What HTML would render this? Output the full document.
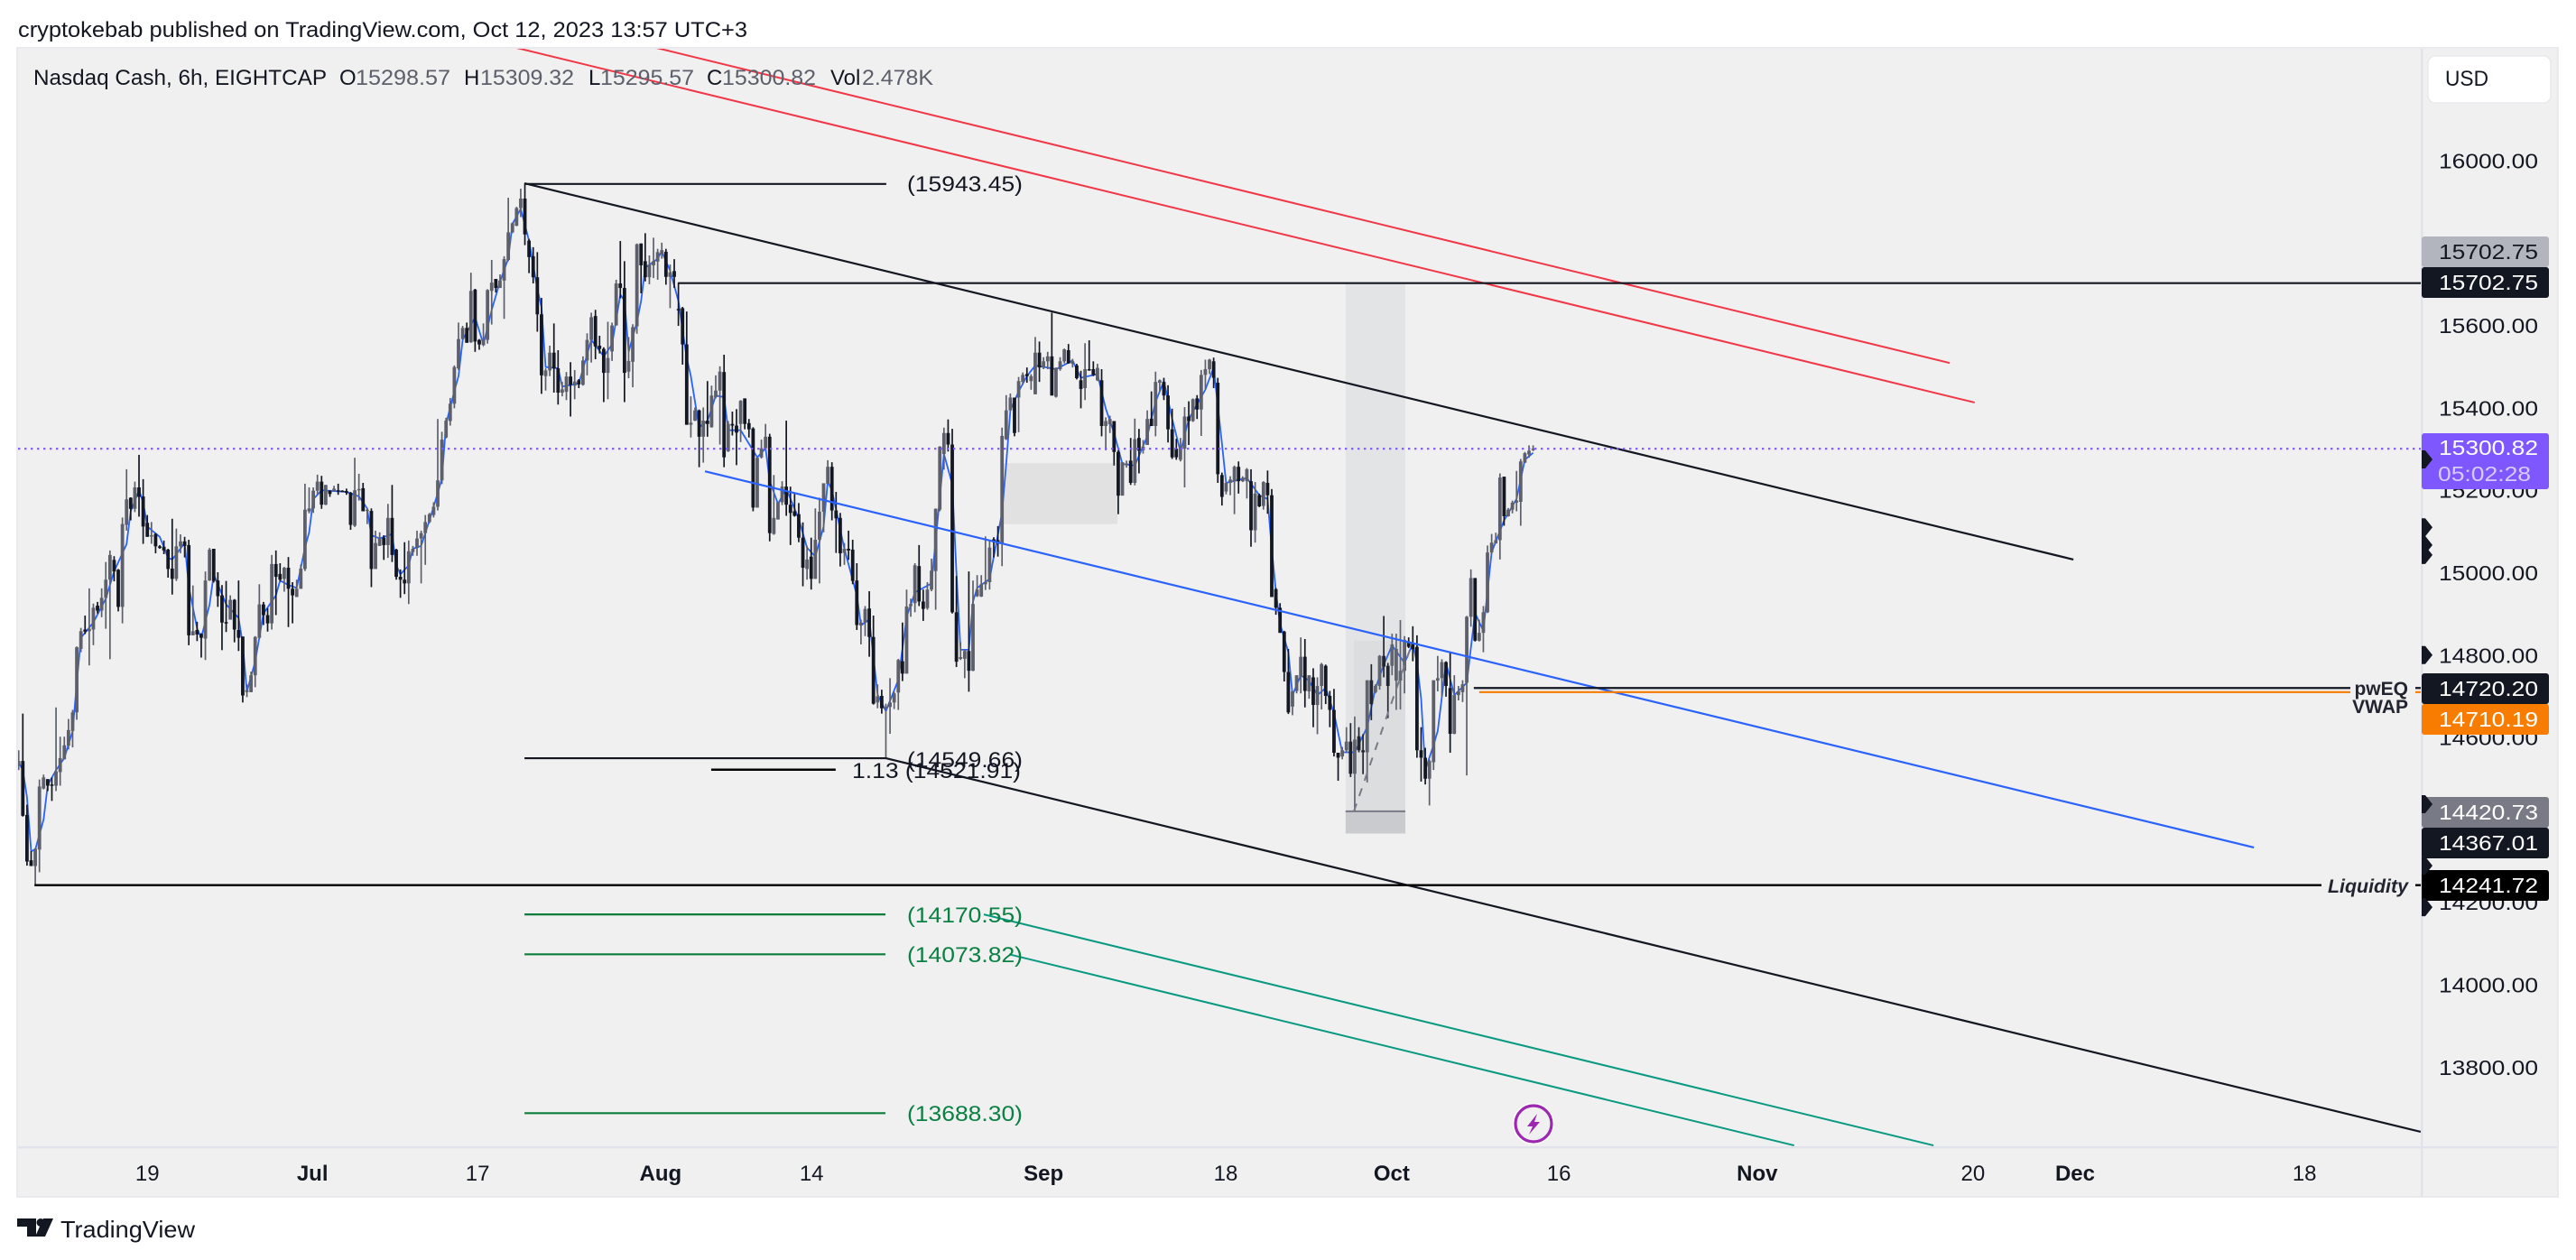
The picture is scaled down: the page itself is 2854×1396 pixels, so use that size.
<!DOCTYPE html>
<html lang="en">
<head>
<meta charset="utf-8">
<title>Nasdaq Cash 6h chart</title>
<style>
html,body{margin:0;padding:0;background:#fff;width:2854px;height:1396px;overflow:hidden}
svg{display:block;font-family:"Liberation Sans",sans-serif}
.ln{fill:none}
.k-black{stroke:#131722;stroke-width:2.2}
.k-jet{stroke:#000;stroke-width:2.4}
.k-red{stroke:#f23645;stroke-width:2}
.k-blue{stroke:#2962ff;stroke-width:2.2}
.k-teal{stroke:#089981;stroke-width:2}
.k-green{stroke:#0a7d3a;stroke-width:2.2}
.k-orange{stroke:#f57c00;stroke-width:2.2}
.tag{font-size:23px;fill:#fff}
.tick{font-size:23px;fill:#131722}
.tt{font-size:24px;fill:#131722;text-anchor:middle}
.lg{font-size:24px;fill:#131722}
.lv{font-size:24px;fill:#5d606b}
.fib{font-size:24px;fill:#131722}
.fibg{font-size:24px;fill:#0a8043}
.ax{font-size:21px;font-weight:bold;fill:#22252f;text-anchor:end}
</style>
</head>
<body>
<svg id="chart" width="2854" height="1396" viewBox="0 0 2854 1396" xmlns="http://www.w3.org/2000/svg">
  <defs><clipPath id="plotClip"><rect x="20" y="54" width="2662" height="1216"/></clipPath></defs>
  <rect x="19" y="53" width="2815" height="1273" fill="#f0f0f0" stroke="#e9e9ee" stroke-width="2"/>
  <text x="20" y="41" font-size="24" fill="#131722" textLength="808" lengthAdjust="spacingAndGlyphs">cryptokebab published on TradingView.com, Oct 12, 2023 13:57 UTC+3</text>

  <g id="ticksPrice"></g>
  <g id="ticksTime"></g>
  <g clip-path="url(#plotClip)">
    <g id="under"></g>
    <g id="candles"></g>
    <g id="over"></g>
  </g>

  <rect x="2682" y="54" width="2.4" height="1272" fill="#e0e3eb"/>
  <rect x="20" y="1270" width="2813" height="2.4" fill="#e0e3eb"/>

  <!-- legend -->
  <text class="lg" x="37" y="94" textLength="325" lengthAdjust="spacingAndGlyphs">Nasdaq Cash, 6h, EIGHTCAP</text>
  <text class="lg" x="376" y="94">O</text>
  <text class="lv" x="394" y="94" textLength="105" lengthAdjust="spacingAndGlyphs">15298.57</text>
  <text class="lg" x="514" y="94">H</text>
  <text class="lv" x="532" y="94" textLength="104" lengthAdjust="spacingAndGlyphs">15309.32</text>
  <text class="lg" x="652" y="94">L</text>
  <text class="lv" x="665" y="94" textLength="104" lengthAdjust="spacingAndGlyphs">15295.57</text>
  <text class="lg" x="783" y="94">C</text>
  <text class="lv" x="800" y="94" textLength="104" lengthAdjust="spacingAndGlyphs">15300.82</text>
  <text class="lg" x="920" y="94">Vol</text>
  <text class="lv" x="955" y="94" textLength="79" lengthAdjust="spacingAndGlyphs">2.478K</text>

  <!-- fib labels -->
  <text class="fib" x="1005" y="212" textLength="128" lengthAdjust="spacingAndGlyphs">(15943.45)</text>
  <text class="fib" x="1005" y="850" textLength="128" lengthAdjust="spacingAndGlyphs">(14549.66)</text>
  <text class="fib" x="944" y="862" textLength="187" lengthAdjust="spacingAndGlyphs">1.13 (14521.91)</text>
  <text class="fibg" x="1005" y="1022" textLength="128" lengthAdjust="spacingAndGlyphs">(14170.55)</text>
  <text class="fibg" x="1005" y="1066" textLength="128" lengthAdjust="spacingAndGlyphs">(14073.82)</text>
  <text class="fibg" x="1005" y="1242" textLength="128" lengthAdjust="spacingAndGlyphs">(13688.30)</text>

  <!-- line labels near the axis -->
  <rect x="2604" y="755" width="72" height="36" fill="#f0f0f0"/>
  <rect x="2572" y="972" width="104" height="18" fill="#f0f0f0"/>
  <text class="ax" x="2668" y="770">pwEQ</text>
  <text class="ax" x="2668" y="790">VWAP</text>
  <text class="ax" x="2668" y="989" font-style="italic" textLength="89" lengthAdjust="spacingAndGlyphs">Liquidity</text>

  <!-- price tags -->
  <g>
    <rect x="2683" y="262" width="141" height="34" rx="3" fill="#b2b5be"/>
    <text class="tag" style="fill:#131722" x="2702" y="287" textLength="110" lengthAdjust="spacingAndGlyphs">15702.75</text>
    <rect x="2683" y="296" width="141" height="34" rx="3" fill="#131722"/>
    <text class="tag" x="2702" y="321" textLength="110" lengthAdjust="spacingAndGlyphs">15702.75</text>
    <rect x="2683" y="480" width="141" height="62" rx="3" fill="#7e57ff"/>
    <text class="tag" x="2702" y="504" textLength="110" lengthAdjust="spacingAndGlyphs">15300.82</text>
    <text class="tag" style="fill:#d8ccff" x="2701" y="533" textLength="103" lengthAdjust="spacingAndGlyphs">05:02:28</text>
    <rect x="2683" y="746" width="141" height="34" rx="3" fill="#131722"/>
    <text class="tag" x="2702" y="771" textLength="110" lengthAdjust="spacingAndGlyphs">14720.20</text>
    <rect x="2683" y="780" width="141" height="34" rx="3" fill="#f77c00"/>
    <text class="tag" x="2702" y="805" textLength="110" lengthAdjust="spacingAndGlyphs">14710.19</text>
    <rect x="2683" y="883" width="141" height="34" rx="3" fill="#787b86"/>
    <text class="tag" x="2702" y="908" textLength="110" lengthAdjust="spacingAndGlyphs">14420.73</text>
    <rect x="2683" y="917" width="141" height="34" rx="3" fill="#131722"/>
    <text class="tag" x="2702" y="942" textLength="110" lengthAdjust="spacingAndGlyphs">14367.01</text>
    <rect x="2683" y="964" width="141" height="34" rx="3" fill="#000"/>
    <text class="tag" x="2702" y="989" textLength="110" lengthAdjust="spacingAndGlyphs">14241.72</text>
  </g>
  <g id="arrows"></g>

  <!-- currency -->
  <rect x="2690" y="62" width="136" height="52" rx="8" fill="#fff" stroke="#e9e9ee" stroke-width="1.5"/>
  <text x="2709" y="95" font-size="24" fill="#131722" textLength="48" lengthAdjust="spacingAndGlyphs">USD</text>

  <!-- lightning -->
  <g>
    <circle cx="1699" cy="1245" r="23" fill="#fff"/>
    <circle cx="1699" cy="1245" r="20" fill="#f0f0f0" stroke="#9c27b0" stroke-width="3.2"/>
    <path d="M1703 1234 L1692 1248 L1698 1248 L1694 1257 L1706 1243 L1700 1243 Z" fill="#9c27b0"/>
  </g>

  <!-- footer -->
  <g>
    <path d="M19 1350 H40 V1370 H30 V1359 H19 Z M59 1350 L50 1370 H39 L48 1350 Z" fill="#131722"/>
    <circle cx="45" cy="1354.5" r="4.5" fill="#131722"/>
    <text x="67" y="1371" font-size="26" fill="#131722" textLength="149" lengthAdjust="spacingAndGlyphs">TradingView</text>
  </g>
</svg>
<script>
const opens=[14532,14543,14412,14302,14288,14328,14476,14499,14486,14483,14516,14547,14580,14616,14661,14815,14862,14858,14862,14920,14908,14939,14983,15031,15007,14917,15116,15182,15155,15207,15185,15121,15088,15094,15064,15063,15056,15010,14985,15064,15076,15067,14848,14861,14851,14840,14981,15058,14981,14945,14880,14886,14934,14861,14845,14710,14710,14751,14842,14923,14897,14877,15021,14997,14985,15012,14961,14941,14961,15009,15149,15156,15199,15221,15165,15199,15199,15200,15199,15198,15194,15114,15200,15205,15150,15150,15009,15065,15085,15067,15133,15056,14990,14983,14974,15050,15060,15083,15096,15123,15140,15160,15224,15328,15368,15410,15496,15567,15594,15559,15687,15565,15552,15565,15684,15713,15691,15709,15759,15826,15842,15885,15908,15806,15768,15717,15627,15477,15491,15534,15496,15437,15439,15476,15454,15467,15456,15515,15565,15623,15551,15543,15485,15537,15600,15702,15691,15488,15512,15598,15799,15756,15717,15746,15755,15773,15779,15718,15732,15640,15642,15554,15359,15369,15394,15330,15369,15353,15426,15442,15487,15295,15361,15357,15361,15423,15363,15350,15158,15280,15302,15330,15094,15129,15171,15209,15165,15149,15142,15085,15009,15039,14985,15080,15148,15216,15257,15151,15133,15048,15058,15056,14981,14872,14879,14913,14844,14685,14701,14671,14674,14685,14709,14785,14755,14919,14926,15016,14930,14914,14959,15004,15153,15288,15339,15311,14904,14791,14791,14810,14762,14943,14942,14972,14977,15081,15079,15071,15324,15394,15425,15425,15463,15482,15465,15433,15534,15498,15513,15525,15427,15494,15513,15540,15507,15503,15467,15448,15494,15494,15467,15467,15356,15360,15368,15293,15187,15261,15272,15218,15327,15297,15310,15374,15356,15461,15463,15430,15348,15301,15274,15301,15379,15368,15423,15396,15480,15494,15513,15461,15237,15197,15218,15222,15257,15222,15222,15222,15103,15188,15162,15218,15188,14960,14915,14857,14759,14675,14713,14748,14796,14712,14746,14679,14725,14774,14701,14667,14563,14554,14569,14590,14512,14603,14569,14564,14739,14710,14725,14798,14774,14774,14738,14738,14762,14833,14828,14820,14569,14551,14500,14540,14738,14744,14783,14720,14609,14703,14710,14733,14893,14987,14835,14854,14904,15049,15071,15079,15233,15137,15153,15170,15172,15267,15287,15299];
const closes=[14543,14410,14299,14288,14330,14481,14503,14483,14483,14518,14550,14581,14618,14661,14819,14858,14857,14864,14915,14908,14939,14983,15043,15003,14917,15118,15178,15155,15207,15184,15112,15087,15091,15064,15060,15054,15009,14985,15064,15076,15065,14848,14858,14850,14842,14981,15056,14980,14943,14879,14878,14934,14862,14842,14702,14715,14751,14844,14923,14897,14877,15021,14990,14983,15012,14961,14945,14961,15010,15153,15156,15199,15221,15165,15213,15191,15204,15198,15197,15194,15116,15200,15203,15149,15153,15009,15072,15083,15067,15133,15043,14990,14983,14974,15052,15058,15083,15096,15123,15142,15160,15224,15323,15369,15410,15499,15567,15594,15558,15684,15561,15554,15565,15686,15704,15691,15709,15761,15826,15848,15885,15908,15821,15766,15717,15627,15479,15491,15534,15496,15437,15445,15476,15456,15464,15457,15515,15565,15620,15549,15543,15485,15521,15600,15702,15691,15485,15514,15596,15797,15746,15717,15748,15756,15778,15783,15718,15729,15718,15637,15554,15359,15364,15394,15330,15369,15361,15430,15442,15488,15280,15361,15357,15340,15417,15361,15348,15158,15279,15302,15330,15096,15133,15171,15209,15165,15145,15138,15085,15012,15032,14985,15080,15148,15217,15257,15151,15132,15047,15058,15054,14980,14873,14879,14912,14844,14682,14700,14671,14674,14685,14707,14788,14755,14918,14924,15018,14930,14912,14959,15005,15155,15306,15339,15311,14904,14784,14795,14810,14762,14924,14959,14972,14977,15061,15074,15071,15332,15394,15425,15339,15465,15480,15477,15477,15534,15498,15513,15525,15430,15497,15513,15542,15508,15513,15472,15446,15494,15492,15480,15497,15356,15368,15373,15293,15187,15268,15265,15218,15324,15296,15306,15373,15356,15463,15467,15430,15348,15280,15280,15306,15379,15368,15421,15396,15480,15494,15517,15473,15239,15184,15218,15226,15257,15222,15230,15251,15103,15192,15161,15220,15188,14941,14915,14854,14759,14661,14712,14751,14796,14713,14751,14679,14725,14778,14701,14667,14563,14551,14569,14590,14512,14595,14569,14564,14739,14681,14725,14798,14772,14725,14826,14815,14762,14837,14820,14814,14569,14551,14500,14543,14739,14744,14783,14725,14609,14703,14712,14729,14893,14987,14835,14854,14904,15049,15073,15079,15231,15137,15153,15170,15175,15270,15290,15296,15301];
const highs=[14569,14658,14437,14324,14331,14498,14510,14499,14503,14673,14602,14602,14645,14667,14821,14866,14896,14962,14925,14929,14962,15026,15054,15040,15009,15134,15251,15183,15221,15286,15227,15140,15123,15096,15067,15078,15058,15131,15107,15093,15087,15080,14969,14881,14853,15003,15060,15058,15001,14970,14980,14945,14936,14981,14845,14729,14760,14846,14972,14929,14914,15043,15054,15023,15014,15038,14977,14983,15020,15216,15207,15207,15238,15235,15213,15200,15211,15216,15200,15204,15196,15279,15240,15218,15156,15156,15102,15098,15091,15167,15213,15058,15008,15074,15078,15065,15102,15102,15140,15145,15171,15373,15342,15376,15424,15503,15607,15599,15607,15728,15689,15567,15605,15688,15759,15713,15724,15768,15910,15850,15888,15932,15945,15810,15790,15778,15667,15496,15551,15605,15540,15463,15487,15511,15492,15470,15525,15581,15631,15638,15575,15547,15609,15607,15711,15805,15756,15572,15603,15799,15799,15824,15770,15813,15786,15801,15786,15748,15761,15704,15645,15634,15428,15401,15396,15401,15465,15454,15479,15501,15529,15368,15391,15397,15419,15423,15373,15353,15279,15323,15361,15337,15237,15171,15222,15369,15209,15193,15169,15122,15065,15085,15156,15182,15217,15273,15268,15196,15145,15072,15102,15080,15023,14886,14919,14955,14896,14729,14716,14682,14744,14711,14791,14879,14959,14937,15023,15067,14959,14977,15034,15156,15307,15352,15372,15349,14992,14831,14813,15003,14981,14994,14994,15088,15078,15086,15113,15352,15431,15435,15425,15475,15486,15498,15482,15572,15561,15523,15536,15631,15498,15523,15544,15555,15519,15507,15490,15557,15564,15513,15507,15494,15377,15381,15368,15297,15268,15272,15327,15374,15349,15322,15394,15440,15488,15469,15473,15455,15398,15325,15327,15402,15416,15423,15431,15492,15517,15519,15522,15473,15243,15220,15234,15260,15270,15234,15254,15251,15220,15192,15222,15248,15203,14963,14926,14859,14815,14713,14751,14843,14839,14751,14768,14746,14781,14777,14713,14718,14563,14577,14625,14635,14651,14625,14608,14739,14778,14729,14800,14895,14781,14852,14852,14885,14846,14843,14870,14848,14625,14575,14547,14739,14798,14790,14785,14807,14751,14725,14739,14895,15008,14987,14886,14919,15066,15094,15097,15241,15233,15157,15175,15247,15276,15293,15309,15309];
const lows=[14521,14408,14289,14288,14244,14273,14474,14470,14446,14470,14483,14547,14571,14576,14643,14807,14851,14775,14824,14901,14892,14864,14790,14979,14906,14877,15102,15127,15147,15136,15070,15087,15070,15047,15058,15045,14988,14947,14980,15047,15037,14824,14848,14834,14794,14788,14980,14976,14917,14812,14856,14886,14831,14810,14685,14698,14710,14722,14839,14873,14857,14862,14897,14980,14954,14868,14877,14941,14961,15004,15144,15145,15189,15155,15164,15184,15196,15189,15196,15189,15104,15111,15175,15149,15118,14965,15009,15065,15031,15036,15026,14983,14939,14948,14924,15041,15041,14974,15019,15120,15134,15151,15215,15326,15357,15399,15492,15567,15558,15558,15536,15541,15552,15556,15602,15680,15691,15616,15756,15824,15841,15863,15795,15727,15702,15585,15434,15442,15477,15437,15408,15428,15419,15379,15421,15448,15454,15479,15510,15518,15532,15414,15421,15514,15600,15666,15414,15472,15450,15580,15678,15707,15700,15715,15711,15762,15699,15642,15691,15599,15505,15359,15328,15368,15256,15267,15330,15352,15423,15311,15256,15293,15333,15261,15317,15348,15328,15149,15158,15277,15299,15076,15092,15129,15164,15138,15067,15136,15074,14967,14983,14959,14985,14974,15098,15215,15127,15048,15015,15019,15031,14972,14861,14826,14846,14796,14680,14671,14658,14550,14609,14669,14667,14737,14755,14893,14904,14919,14883,14910,14955,14910,15149,15250,15294,14901,14771,14788,14744,14711,14761,14941,14941,14958,14959,15037,15039,15016,15322,15394,15331,15341,15456,15461,15444,15433,15463,15494,15494,15430,15425,15490,15508,15507,15498,15469,15399,15419,15490,15477,15465,15331,15297,15339,15260,15142,15187,15255,15213,15212,15241,15289,15310,15356,15331,15440,15419,15316,15276,15274,15270,15207,15310,15366,15373,15332,15444,15482,15448,15218,15163,15190,15188,15142,15192,15220,15180,15063,15073,15159,15153,15143,14941,14898,14854,14736,14657,14654,14707,14707,14673,14694,14625,14608,14668,14681,14625,14554,14495,14547,14564,14504,14422,14564,14511,14491,14642,14707,14716,14746,14647,14751,14667,14668,14707,14817,14785,14551,14493,14486,14435,14521,14712,14699,14699,14563,14608,14690,14686,14508,14869,14833,14833,14807,14902,15045,15071,15032,15114,15136,15144,15149,15114,15266,15279,15295];

const maBars=[0,1,2,3,4,6,7,9,11,13,14,15,18,21,23,26,27,29,30,31,34,36,37,40,41,43,44,46,47,50,53,54,55,57,59,62,63,65,67,69,70,71,73,79,82,84,85,87,90,91,92,94,95,97,99,101,102,103,105,106,107,110,112,114,116,118,119,121,123,125,126,127,130,131,135,138,141,143,145,146,147,149,150,151,154,155,157,159,161,162,164,166,168,170,171,174,178,180,181,183,185,188,190,192,194,195,196,199,202,203,205,207,209,212,214,216,220,221,223,225,226,227,229,230,231,234,237,238,239,241,243,245,250,254,256,260,262,264,266,269,272,274,276,278,280,282,286,288,290,291,296,299,301,302,303,304,306,307,309,311,313,315,317,319,322,325,327,329,331,334,336,337,338,339,341,342,344,346,349,351,353,355,358,361,363,365];
const maValues=[14539,14521,14455,14324,14328,14401,14485,14521,14550,14616,14733,14842,14879,14937,15003,15069,15149,15200,15171,15112,15087,15036,15032,15072,14966,14864,14842,14923,14996,14923,14890,14828,14711,14784,14901,14945,14981,14970,14963,15061,15098,15178,15200,15196,15185,15156,15091,15083,15094,15018,14996,15018,15058,15065,15127,15193,15229,15361,15441,15477,15565,15620,15554,15638,15707,15762,15846,15883,15806,15689,15645,15499,15496,15452,15459,15565,15525,15554,15675,15660,15536,15609,15660,15740,15762,15780,15733,15660,15521,15477,15353,15368,15430,15426,15346,15346,15280,15302,15222,15167,15204,15131,15061,15039,15112,15222,15200,15058,14945,14872,14886,14704,14664,14740,14893,14952,14974,15076,15288,15215,15003,14813,14813,14930,14963,14985,15146,15264,15394,15440,15477,15503,15494,15515,15473,15482,15398,15339,15264,15260,15331,15415,15465,15373,15293,15373,15444,15498,15314,15218,15230,15188,15179,15058,14954,14876,14807,14703,14751,14738,14703,14720,14660,14564,14564,14625,14720,14776,14824,14781,14828,14781,14694,14521,14582,14616,14781,14703,14733,14902,14859,15049,15127,15179,15274,15291];

const priceTicks=[16000,15800,15600,15400,15200,15000,14800,14600,14400,14200,14000,13800];
const tickLabels=['19','Jul','17','Aug','14','Sep','18','Oct','16','Nov','20','Dec','18'];
const tickBars=[31,70.8,110.6,154.7,191.1,247,290.9,330.9,371.2,419,471,495.6,550.9];
const alertPrices=[15275,15110,15067,15043,14800,14438,14289,14188];
const lastPrice=15300.82;

const drawingNames=['fib-top-level','channel-top-line','channel-bottom-line','red-line-lower','red-line-upper','resistance-15702','blue-midline','teal-line-upper','teal-line-lower','liquidity-line','pweq-line','vwap-line','fib-114549-level','fib-113-level','fib-14170-level','fib-14073-level','fib-13688-level'];
const drawingKinds=['black','black','black','red','red','black','blue','teal','teal','jet','black','orange','black','jet','green','green','green'];
const drawingBar0=[121.9,121.9,208.9,119.9,153.6,158.9,165.4,232.6,238.7,3.8,350.7,352,121.9,166.9,121.9,121.9,121.9];
const drawingPrice0=[15943.45,15945,14550,16274,16274,15702.75,15246,14170.55,14073.82,14241.72,14720.2,14710.19,14549.66,14521.91,14170.55,14073.82,13688.3];
const drawingBar1=[209.1,495.2,578.9,471.4,465.4,579,538.7,461.5,427.9,579,579,579,208.9,196.9,208.9,208.9,208.9];
const drawingPrice1=[15943.45,15032,13643,15413,15509,15702.75,14333,13610,13610,14241.72,14720.2,14710.19,14549.66,14521.91,14170.55,14073.82,13688.3];

const NS='http://www.w3.org/2000/svg';
function xScale(bar){return 20.7+bar*4.597;}
function yScale(price){return 178+(16000-price)*0.4565;}
function make(tag,parent){const el=document.createElementNS(NS,tag);parent.appendChild(el);return el;}

const under=document.getElementById('under');
const candleLayer=document.getElementById('candles');
const over=document.getElementById('over');
const ticksPrice=document.getElementById('ticksPrice');
const ticksTime=document.getElementById('ticksTime');
const arrows=document.getElementById('arrows');

/* moving average */
const maLine=make('polyline',under);


maLine.setAttribute('fill','none');
maLine.setAttribute('stroke','#2962ff');
maLine.setAttribute('stroke-width','1.8');
maLine.setAttribute('points',maBars.map((b,i)=>xScale(b).toFixed(1)+','+yScale(maValues[i]).toFixed(1)).join(' '));

/* candles */
opens.forEach((o,i)=>{
  const c=closes[i],up=c>=o,col=up?'#5d606b':'#131722',x=xScale(i);
  const wick=make('line',candleLayer);
  
  
  wick.setAttribute('x1',x);wick.setAttribute('x2',x);
  wick.setAttribute('y1',yScale(highs[i]));wick.setAttribute('y2',yScale(lows[i]));
  wick.setAttribute('stroke',col);wick.setAttribute('stroke-width','1.7');
  const body=make('rect',candleLayer);
  
  
  const top=yScale(Math.max(o,c)),bot=yScale(Math.min(o,c));
  body.setAttribute('x',x-1.9);body.setAttribute('width','3.8');
  body.setAttribute('y',top);body.setAttribute('height',Math.max(bot-top,1.5));
  body.setAttribute('fill',col);
});

/* shaded zones */
function zone(b0,b1,p0,p1,fill,op,name){
  const r=make('rect',over);
  
  
  r.setAttribute('x',xScale(b0));r.setAttribute('width',xScale(b1)-xScale(b0));
  r.setAttribute('y',yScale(p0));r.setAttribute('height',yScale(p1)-yScale(p0));
  r.setAttribute('fill',fill);r.setAttribute('fill-opacity',op);
}
zone(237.4,264.8,15266,15118,'#787b86',0.13,'imbalance-zone');
zone(319.8,334.2,15702.75,14420.73,'#787b86',0.10,'vertical-range-zone');
zone(321.8,334.2,14835,14420.73,'#787b86',0.06,'inner-range-zone');
zone(319.8,334.2,14420.73,14367.01,'#787b86',0.32,'range-floor-zone');

const dash=make('line',over);


dash.setAttribute('x1',xScale(321.8));dash.setAttribute('y1',yScale(14420.73));
dash.setAttribute('x2',xScale(335.5));dash.setAttribute('y2',yScale(14819));
dash.setAttribute('stroke','#787b86');dash.setAttribute('stroke-width','2');dash.setAttribute('stroke-dasharray','9 9');

const floorLine=make('line',over);


floorLine.setAttribute('x1',xScale(319.8));floorLine.setAttribute('x2',xScale(334.2));
floorLine.setAttribute('y1',yScale(14420.73));floorLine.setAttribute('y2',yScale(14420.73));
floorLine.setAttribute('stroke','#787b86');floorLine.setAttribute('stroke-width','2');

/* trend lines and levels */
drawingNames.forEach((name,i)=>{
  const l=make('line',over);
  
  
  l.setAttribute('class','ln k-'+drawingKinds[i]);
  l.setAttribute('x1',xScale(drawingBar0[i]));l.setAttribute('y1',yScale(drawingPrice0[i]));
  l.setAttribute('x2',xScale(drawingBar1[i]));l.setAttribute('y2',yScale(drawingPrice1[i]));
});

/* last price line */
const lp=make('line',over);


lp.setAttribute('x1','20');lp.setAttribute('x2','2682');
lp.setAttribute('y1',yScale(lastPrice));lp.setAttribute('y2',yScale(lastPrice));
lp.setAttribute('stroke','#7e57ff');lp.setAttribute('stroke-width','2.2');lp.setAttribute('stroke-dasharray','2.4 4.6');

/* axes */
priceTicks.forEach(p=>{
  const t=make('text',ticksPrice);
  
  
  t.setAttribute('class','tick');
  t.setAttribute('x','2702');t.setAttribute('y',yScale(p)+8.5);
  t.setAttribute('textLength','110');t.setAttribute('lengthAdjust','spacingAndGlyphs');
  t.textContent=p.toFixed(2);
});
tickLabels.forEach((lab,i)=>{
  const t=make('text',ticksTime);
  
  
  t.setAttribute('class','tt');
  if(isNaN(lab)) t.setAttribute('font-weight','bold');
  t.setAttribute('x',xScale(tickBars[i]));t.setAttribute('y','1308');
  t.textContent=lab;
});
alertPrices.forEach(p=>{
  const y=yScale(p);
  const a=make('path',arrows);
  
  
  a.setAttribute('d','M2683 '+(y-10)+' h4 l8 10 l-8 10 h-4 z');
  a.setAttribute('fill','#131722');
});
</script>
</body>
</html>
